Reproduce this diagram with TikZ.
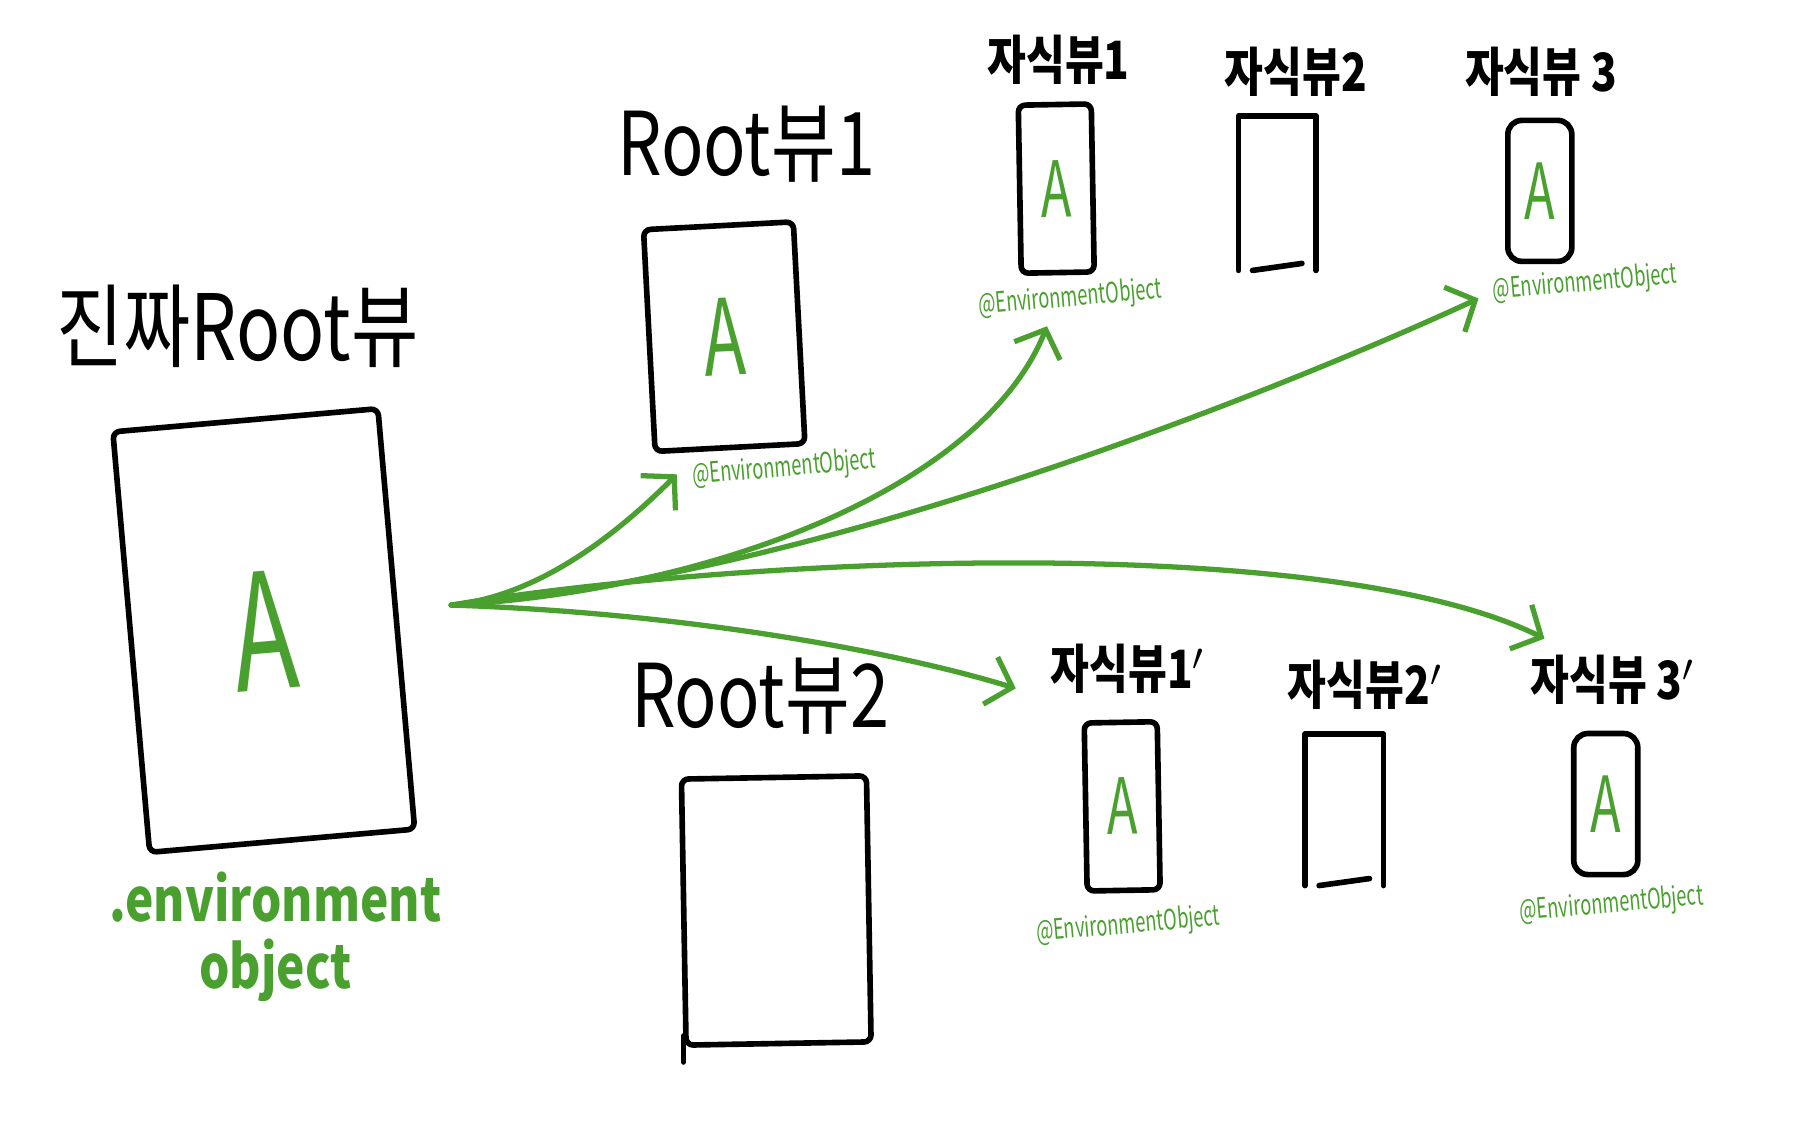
\documentclass[tikz,border=0pt]{standalone}
\usepackage{fontspec}
\usepackage{tikz}
\usetikzlibrary{arrows.meta,positioning}
\newfontfamily\hand[FakeStretch=0.8]{Noto Sans CJK KR}
\newfontfamily\handthin[FakeStretch=0.65]{Noto Sans CJK KR}
\definecolor{pengreen}{HTML}{4AA02F}

\begin{document}
\begin{tikzpicture}[x=0.011569cm, y=-0.011569cm, >={Straight Barb[length=6.5pt,width=14pt]}, line cap=round, line join=round]

    \tikzstyle{view} = [rectangle, rounded corners=2pt, draw=black, line width=1.6pt, inner sep=0pt, text=pengreen]
    \tikzstyle{childview} = [view, minimum width=0.73cm, minimum height=1.68cm, font=\handthin\fontsize{22}{24}\selectfont]
    \tikzstyle{openview} = [rectangle, inner sep=0pt, minimum width=0.76cm, minimum height=1.53cm]
    \tikzstyle{title} = [text=black, font=\hand\fontsize{25}{27}\selectfont]
    \tikzstyle{childtitle} = [text=black, font=\hand\bfseries\fontsize{15}{17}\selectfont]
    \tikzstyle{envlabel} = [text=pengreen, rotate=5, font=\handthin\fontsize{8}{9}\selectfont]
    \tikzstyle{modlabel} = [text=pengreen, align=center, font=\hand\bfseries\fontsize{17}{19}\selectfont]
    \tikzstyle{pen} = [draw=black, line width=1.6pt]
    \tikzstyle{arrow} = [->, draw=pengreen, line width=1.5pt]

    \useasboundingbox (0,0) rectangle (1568,981);

    \node (realtitle) [title, font=\hand\fontsize{26}{28}\selectfont] at (205,282) {진짜Root뷰};
    \node (realroot)  [view, minimum width=2.66cm, minimum height=4.22cm, rotate=5, font=\handthin\fontsize{46}{48}\selectfont] at (228,545) {A};
    \node (realmod)   [modlabel] at (238,810) {.environment\\object};

    \node (root1)     [view, minimum width=1.50cm, minimum height=2.22cm, rotate=3, font=\handthin\fontsize{30}{32}\selectfont] at (626,291) {A};
    \node (root1lbl)  [title] at (645,125) {Root뷰1};
    \node (root1env)  [envlabel] at (678,405) {@EnvironmentObject};

    \node (root2)     [view, minimum width=1.85cm, minimum height=2.66cm, rotate=1] at (671,787) {};
    \draw[pen] ([yshift=0.12cm]root2.south west) -- ++(0,-0.26cm);
    \node (root2lbl)  [title] at (657,602) {Root뷰2};

    \node (c1)        [childview, rotate=1] at (913,163) {A};
    \node (c1lbl)     [childtitle] at (915,52) {자식뷰1};
    \node (c1env)     [envlabel] at (925,258) {@EnvironmentObject};

    \node (c2)        [openview] at (1104,167) {};
    \draw[pen] (c2.south west) -- (c2.north west) -- (c2.north east) -- (c2.south east);
    \draw[pen] ([xshift=0.14cm]c2.south west) -- ([xshift=-0.14cm, yshift=0.07cm]c2.south east);
    \node (c2lbl)     [childtitle] at (1120,62) {자식뷰2};

    \node (c3)        [childview, minimum width=0.64cm, minimum height=1.41cm, rounded corners=4pt] at (1331,165) {A};
    \node (c3lbl)     [childtitle] at (1332,62) {자식뷰 3};
    \node (c3env)     [envlabel] at (1370,245) {@EnvironmentObject};

    \node (d1)        [childview, rotate=1] at (970,697) {A};
    \node (d1lbl)     [childtitle] at (975,578) {자식뷰1$'$};
    \node (d1env)     [envlabel] at (975,800) {@EnvironmentObject};

    \node (d2)        [openview, minimum width=0.77cm, minimum height=1.50cm] at (1162,700) {};
    \draw[pen] (d2.south west) -- (d2.north west) -- (d2.north east) -- (d2.south east);
    \draw[pen] ([xshift=0.14cm]d2.south west) -- ([xshift=-0.14cm, yshift=0.07cm]d2.south east);
    \node (d2lbl)     [childtitle] at (1180,592) {자식뷰2$'$};

    \node (d3)        [childview, minimum width=0.64cm, minimum height=1.41cm, rounded corners=4pt] at (1388,695) {A};
    \node (d3lbl)     [childtitle] at (1394,588) {자식뷰 3$'$};
    \node (d3env)     [envlabel] at (1393,782) {@EnvironmentObject};

    \coordinate (src)  at (390,523);
    \coordinate (tip1) at (585,410);
    \coordinate (tip2) at (905,282);
    \coordinate (tip3) at (1278,258);
    \coordinate (tip4) at (1335,552);
    \coordinate (tip5) at (878,595);

    \draw[arrow] (src) .. controls (470,515) and (540,455) .. (tip1);
    \draw[arrow] (src) .. controls (620,510) and (850,420) .. (tip2);
    \draw[arrow] (src) .. controls (700,500) and (1100,340) .. (tip3);
    \draw[arrow] (src) .. controls (650,480) and (1150,460) .. (tip4);
    \draw[arrow] (src) .. controls (600,530) and (780,565) .. (tip5);
\end{tikzpicture}
\end{document}
